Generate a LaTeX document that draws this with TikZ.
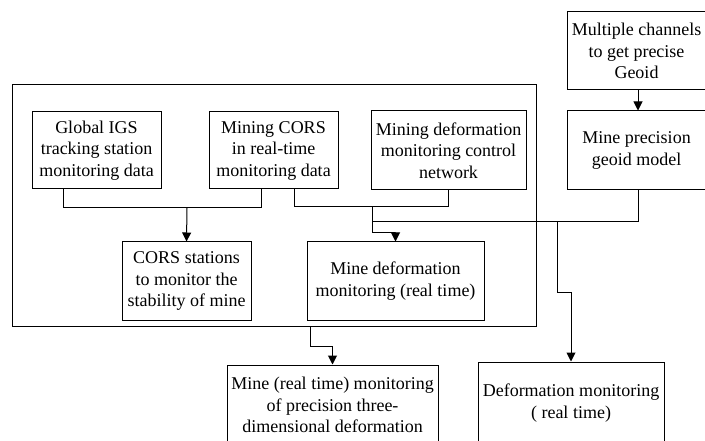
\documentclass[tikz,border=0pt]{standalone}
\usepackage{fontspec}
\setmainfont{Liberation Serif}
\usetikzlibrary{arrows.meta}
\begin{document}
\begin{tikzpicture}[x=1pt,y=-1pt,
  box/.style={draw, line width=1pt, align=center, inner sep=0pt,
    font=\fontsize{18}{21.5}\selectfont},
  ln/.style={line width=1pt},
  arr/.style={line width=1pt, -{Triangle[width=9pt,length=9pt]}}]
\useasboundingbox (0,0) rectangle (705,441);
% frame
\node[draw, line width=1pt, minimum width=524pt, minimum height=241pt, inner sep=0pt] (frame) at (274,205.5) {};
% boxes
\node[box, minimum width=129pt, minimum height=77pt] (igs) at (96.5,150.5) {Global IGS\\tracking station\\monitoring data};
\node[box, minimum width=129pt, minimum height=77pt] (cors) at (273.5,150.5) {Mining CORS\\in real-time\\monitoring data};
\node[box, minimum width=155pt, minimum height=79pt] (net) at (448.5,150.5) {Mining deformation\\monitoring control\\network};
\node[box, minimum width=139pt, minimum height=78pt] (multi) at (636.5,51) {Multiple channels\\to get precise\\Geoid};
\node[box, minimum width=139pt, minimum height=79pt] (geoid) at (636.5,150.5) {Mine precision\\geoid model};
\node[box, minimum width=129pt, minimum height=78pt] (stab) at (186.5,281) {CORS stations\\to monitor the\\stability of mine};
\node[box, minimum width=177pt, minimum height=78pt] (mdm) at (395.5,281) {Mine deformation\\monitoring (real time)};
\node[box, minimum width=211pt, minimum height=80pt] (three) at (332.5,405) {Mine (real time) monitoring\\of precision three-\\dimensional deformation};
\node[box, minimum width=186pt, minimum height=82pt] (defm) at (571,403) {Deformation monitoring\\( real time)};
% junction coordinates
\coordinate (j1) at (187,208);
\coordinate (j2) at (372,207);
\coordinate (j3) at (372,222);
\coordinate (j4) at (557,222);
% connectors
\draw[ln] (63,0 |- igs.south) -- (63,208) -- (261,208) -- (261,0 |- cors.south);
\draw[arr] (j1) -- (stab.north);
\draw[ln] (294,0 |- cors.south) -- (294,207) -- (448.5,207) -- (net.south);
\draw[arr] (j2) -- (372,233) -- (395.5,233) -- (mdm.north);
\draw[ln] (j3) -- (638,222) -- (638,0 |- geoid.south);
\draw[arr] (638,0 |- multi.south) -- (638,0 |- geoid.north);
\draw[arr] (j4) -- (557,292) -- (571,292) -- (defm.north);
\draw[arr] (310,0 |- frame.south) -- (310,346) -- (332.5,346) -- (three.north);
\end{tikzpicture}
\end{document}
